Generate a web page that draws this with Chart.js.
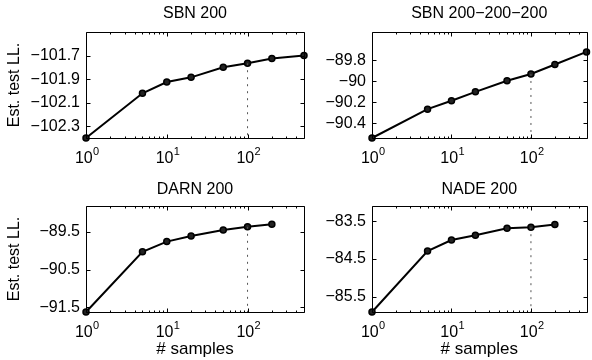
<!DOCTYPE html>
<html>
<head>
<meta charset="utf-8">
<script src="https://cdn.jsdelivr.net/npm/chart.js@4/dist/chart.umd.min.js"></script>
<style>
  html, body { margin: 0; padding: 0; background: #fff; }
  #wrap { position: relative; width: 592px; height: 360px; overflow: hidden; }
  canvas { position: absolute; }
</style>
</head>
<body>
<div id="wrap">
  <canvas id="c1" width="310" height="180" style="left:0;top:0"></canvas>
  <canvas id="c2" width="296" height="180" style="left:296px;top:0"></canvas>
  <canvas id="c3" width="310" height="180" style="left:0;top:180px"></canvas>
  <canvas id="c4" width="296" height="180" style="left:296px;top:180px"></canvas>
</div>
<script>
// number of importance samples
const samples = [1, 5, 10, 20, 50, 100, 200, 500];
const xTicks = [1, 10, 100];
const xMax = 500;

// estimated test log-likelihood per model
const sbn200 = [-102.40, -102.02, -101.925, -101.885, -101.80, -101.765, -101.725, -101.70];
const sbn200x3 = [-90.54, -90.265, -90.185, -90.10, -89.995, -89.93, -89.84, -89.72];
const darn200 = [-91.62, -90.03, -89.76, -89.61, -89.455, -89.37, -89.30];
const nade200 = [-85.90, -84.29, -84.00, -83.87, -83.69, -83.66, -83.59];

// y tick labels and axis limits
const sbnTicks = [-102.3, -102.1, -101.9, -101.7];
const sbn3Ticks = [-90.4, -90.2, -90, -89.8];
const darnTicks = [-91.5, -90.5, -89.5];
const nadeTicks = [-85.5, -84.5, -83.5];
const sbnRange = [-102.4, -101.5];
const sbn3Range = [-90.54, -89.53];
const darnRange = [-91.62, -88.82];
const nadeRange = [-85.9, -83.1];

const markedSamples = 100; // dotted line position

const FONT = "'Liberation Sans', Arial, Helvetica, sans-serif";
Chart.defaults.font.family = FONT;
Chart.defaults.color = '#000';

// MATLAB-like box with inward ticks, plus exponents of the x labels
const boxPlugin = {
    id: 'box',
    afterDraw(chart) {
        const { ctx, chartArea: a, scales } = chart;
        const x = scales.x, y = scales.y;
        const L = Math.round(a.left) + 0.5, R = Math.round(a.right) + 0.5;
        const T = Math.round(a.top) + 0.5, B = Math.round(a.bottom) + 0.5;
        ctx.save();
        ctx.strokeStyle = '#000';
        ctx.lineWidth = 1;
        ctx.beginPath();
        for (let d = 1; d <= xMax; d *= 10) {
            for (let k = 1; k <= 9; k++) {
                const v = d * k;
                if (v > xMax) break;
                const px = Math.round(x.getPixelForValue(v)) + 0.5;
                const len = k === 1 ? 4 : 2;
                ctx.moveTo(px, B); ctx.lineTo(px, B - len);
                ctx.moveTo(px, T); ctx.lineTo(px, T + len);
            }
        }
        y.ticks.forEach(t => {
            const py = Math.round(y.getPixelForValue(t.value)) + 0.5;
            ctx.moveTo(L, py); ctx.lineTo(L + 4, py);
            ctx.moveTo(R, py); ctx.lineTo(R - 4, py);
        });
        ctx.stroke();
        ctx.beginPath();
        ctx.rect(L, T, R - L, B - T);
        ctx.stroke();

        // superscript exponents next to the "10" tick labels
        ctx.font = '11px ' + FONT;
        ctx.fillStyle = '#000';
        ctx.textAlign = 'left';
        ctx.textBaseline = 'alphabetic';
        x.ticks.forEach(t => {
            const px = x.getPixelForValue(t.value);
            ctx.fillText(String(Math.round(Math.log10(t.value))), px + 7, a.bottom + 17);
        });
        ctx.restore();
    }
};

function makePanel(id, title, values, yTicks, yRange, opts) {
    const pts = values.map((v, i) => ({ x: samples[i], y: v }));
    const markIdx = samples.indexOf(markedSamples);
    const dotted = [
        { x: markedSamples, y: values[markIdx] },
        { x: markedSamples, y: yRange[0] }
    ];
    return new Chart(document.getElementById(id), {
        type: 'line',
        data: {
            datasets: [
                {
                    data: dotted,
                    borderColor: '#555',
                    borderWidth: 1,
                    borderDash: [2, 5],
                    pointRadius: 0,
                    clip: false
                },
                {
                    data: pts,
                    borderColor: '#000',
                    borderWidth: 2,
                    pointRadius: 3,
                    pointBorderWidth: 1.5,
                    pointBackgroundColor: '#222',
                    pointBorderColor: '#000',
                    tension: 0,
                    clip: false
                }
            ]
        },
        options: {
            responsive: false,
            animation: false,
            events: [],
            layout: { padding: { top: 0, right: opts.padRight, left: 0, bottom: 0 } },
            plugins: {
                legend: { display: false },
                tooltip: { enabled: false },
                title: {
                    display: true,
                    text: title,
                    fullSize: false,
                    font: { size: 16, weight: 'normal' },
                    padding: opts.titlePad
                }
            },
            scales: {
                x: {
                    type: 'logarithmic',
                    min: 1,
                    max: xMax,
                    grid: { display: false, drawTicks: false },
                    border: { display: false },
                    afterBuildTicks: s => { s.ticks = xTicks.map(v => ({ value: v })); },
                    afterFit: s => { s.height = opts.xHeight; },
                    ticks: {
                        padding: 11,
                        maxRotation: 0,
                        font: { size: 16 },
                        callback: () => '10 '
                    },
                    title: {
                        display: opts.xTitle,
                        text: '# samples',
                        font: { size: 17 },
                        padding: { top: 0, bottom: 0 }
                    }
                },
                y: {
                    min: yRange[0],
                    max: yRange[1],
                    grid: { display: false, drawTicks: false },
                    border: { display: false },
                    afterBuildTicks: s => { s.ticks = yTicks.map(v => ({ value: v })); },
                    afterFit: s => { s.width = opts.yWidth; },
                    ticks: {
                        padding: 6,
                        font: { size: 16 },
                        callback: v => String(v).replace('-', '\u2212')
                    },
                    title: {
                        display: opts.yTitle,
                        text: 'Est. test LL.',
                        font: { size: 16 },
                        padding: { top: 5, bottom: 0 }
                    }
                }
            }
        },
        plugins: [boxPlugin]
    });
}

makePanel('c1', 'SBN 200', sbn200, sbnTicks, sbnRange,
    { padRight: 6, yWidth: 86, xHeight: 42, titlePad: { top: 3.5, bottom: 9.3 }, xTitle: false, yTitle: true });
makePanel('c2', 'SBN 200\u2212200\u2212200', sbn200x3, sbn3Ticks, sbn3Range,
    { padRight: 2, yWidth: 76, xHeight: 42, titlePad: { top: 3.5, bottom: 9.3 }, xTitle: false, yTitle: false });
makePanel('c3', 'DARN 200', darn200, darnTicks, darnRange,
    { padRight: 6, yWidth: 86, xHeight: 48, titlePad: { top: 0.4, bottom: 6.4 }, xTitle: true, yTitle: true });
makePanel('c4', 'NADE 200', nade200, nadeTicks, nadeRange,
    { padRight: 2, yWidth: 76, xHeight: 48, titlePad: { top: 0.4, bottom: 6.4 }, xTitle: true, yTitle: false });
</script>
</body>
</html>
